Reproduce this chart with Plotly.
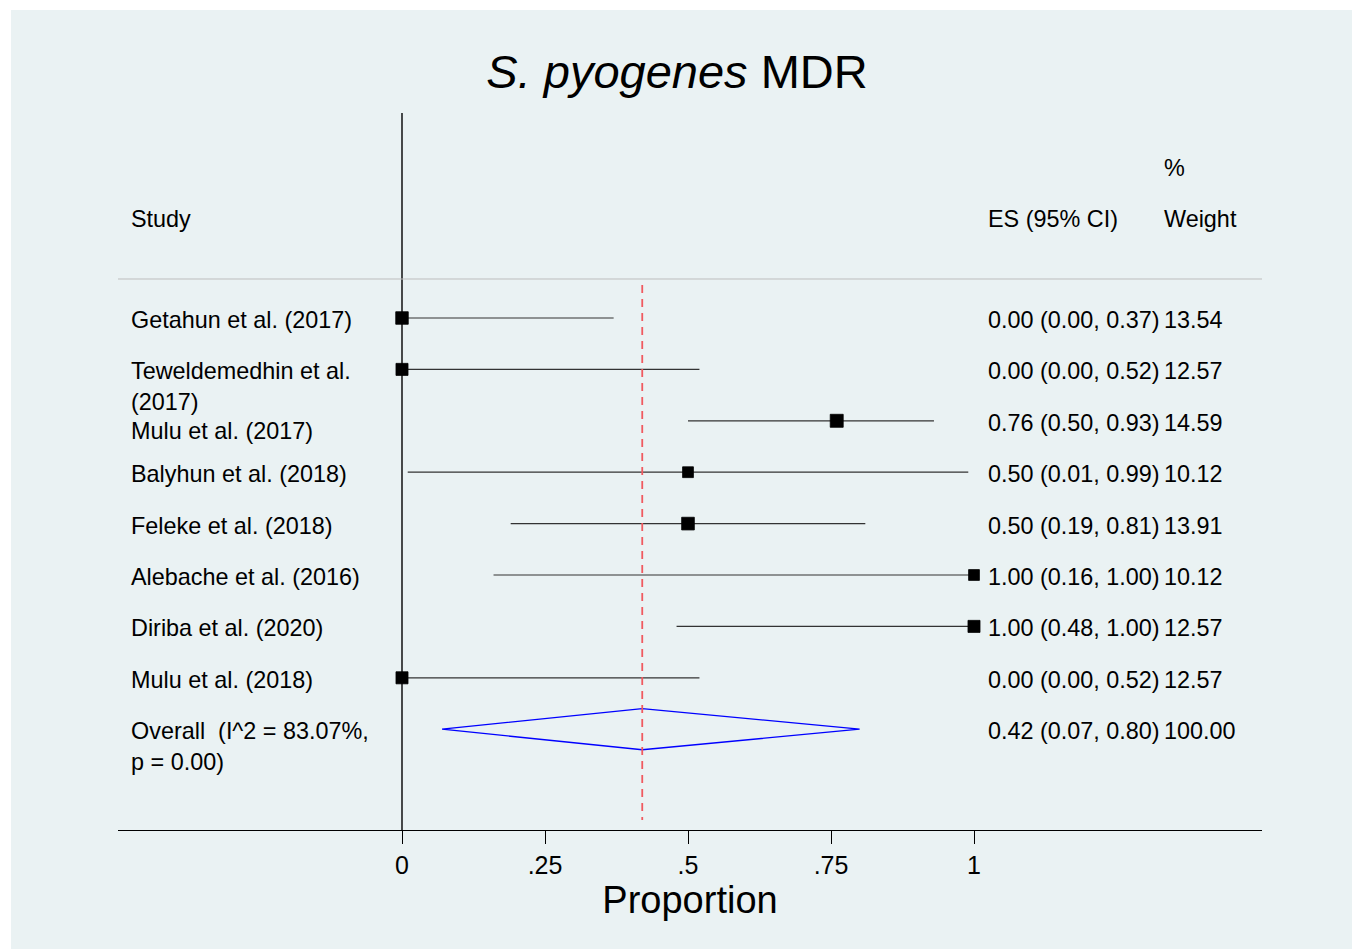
import plotly.graph_objects as go
import math

title_italic = "S. pyogenes"
title_rest = "MDR"
studies = ["Getahun et al. (2017)", "Teweldemedhin et al.<br>(2017)", "Mulu et al. (2017)",
           "Balyhun et al. (2018)", "Feleke et al. (2018)", "Alebache et al. (2016)",
           "Diriba et al. (2020)", "Mulu et al. (2018)"]
es = [0.00, 0.00, 0.76, 0.50, 0.50, 1.00, 1.00, 0.00]
lo = [0.00, 0.00, 0.50, 0.01, 0.19, 0.16, 0.48, 0.00]
hi = [0.37, 0.52, 0.93, 0.99, 0.81, 1.00, 1.00, 0.52]
weights = [13.54, 12.57, 14.59, 10.12, 13.91, 10.12, 12.57, 12.57]
overall_label = "Overall  (I^2 = 83.07%,<br>p = 0.00)"
overall_es, overall_lo, overall_hi, overall_w = 0.42, 0.07, 0.80, 100.00
tick_vals = [0, 0.25, 0.5, 0.75, 1]
tick_text = ["0", ".25", ".5", ".75", "1"]
x_title = "Proportion"

FONT = "Liberation Sans, Arial, Helvetica, sans-serif"
BG = "#EAF2F3"
OFF = 8  # page body margin

rows = list(range(1, len(studies) + 1))
overall_row = len(studies) + 1

# page-pixel helpers (row 1 at y=318, 51.4 px per row; x=0 at 402, 572 px per unit)
def rowpx(py):
    return 1 + (py - 318) / 51.4

def xpx(px):
    return (px - 402) / 572

fig = go.Figure()

for r, l, h in zip(rows, lo, hi):
    fig.add_trace(go.Scatter(x=[l, h], y=[r, r], mode="lines",
                             line=dict(color="#333333", width=1.2),
                             hoverinfo="skip", showlegend=False))
fig.add_trace(go.Scatter(x=es, y=rows, mode="markers",
                         marker=dict(symbol="square", color="#000000", opacity=1,
                                     size=[3.4 * math.sqrt(w) for w in weights],
                                     line=dict(width=0.8, color="#000000")),
                         hoverinfo="skip", showlegend=False))
dh = 0.4
fig.add_trace(go.Scatter(x=[overall_lo, overall_es, overall_hi, overall_es, overall_lo],
                         y=[overall_row, overall_row - dh, overall_row, overall_row + dh, overall_row],
                         mode="lines", line=dict(color="#0000FF", width=1.3),
                         hoverinfo="skip", showlegend=False))

shapes = [
    dict(type="rect", xref="paper", yref="paper", x0=-0.0935, x1=1.09,
         y0=-0.2, y1=1.1437, fillcolor=BG, line=dict(width=0), layer="below"),
    dict(type="line", xref="x", yref="paper", x0=0, x1=0, y0=0, y1=1,
         line=dict(color="black", width=1.4)),
    dict(type="line", xref="paper", yref="y", x0=0, x1=1, y0=rowpx(279), y1=rowpx(279),
         line=dict(color="#BDBDBD", width=1)),
    dict(type="line", xref="x", yref="y", x0=overall_es, x1=overall_es,
         y0=rowpx(285), y1=rowpx(820), line=dict(color="#F05A5F", width=1.8, dash="8px,6px")),
]

ann = []
XL, XES, XW = xpx(129), xpx(986), xpx(1162)
tf = dict(family=FONT, size=23.4, color="black")
LINE = 31

def add_label(text, row, x, extra=0):
    for i, line in enumerate(text.split("<br>")):
        ann.append(dict(x=x, y=row, xref="x", yref="y", text=line, showarrow=False,
                        xanchor="left", yanchor="middle", yshift=-2 - extra - LINE * i, font=tf))

prev_lines = 1
for r, s in zip(rows, studies):
    add_label(s, r, XL, extra=8 if prev_lines > 1 else 0)
    prev_lines = len(s.split("<br>"))
add_label(overall_label, overall_row, XL)

for r, e, l, h, w in zip(rows + [overall_row], es + [overall_es], lo + [overall_lo],
                         hi + [overall_hi], weights + [overall_w]):
    add_label(f"{e:.2f} ({l:.2f}, {h:.2f})", r, XES)
    add_label(f"{w:.2f}", r, XW)

add_label("Study", rowpx(217), XL)
add_label("ES (95% CI)", rowpx(217), XES)
add_label("Weight", rowpx(217), XW)
add_label("%", rowpx(166), XW)

fig.update_layout(
    width=1360 - OFF, height=949 - OFF,
    margin=dict(l=118 - OFF, r=98, t=113 - OFF, b=119),
    paper_bgcolor="white", plot_bgcolor="rgba(0,0,0,0)",
    title=dict(text=f"<i>{title_italic}</i> {title_rest}", x=(677 - OFF) / (1360 - OFF),
               xanchor="center", y=1 - (72 - OFF) / (949 - OFF), yanchor="middle",
               font=dict(family=FONT, size=47, color="black")),
    shapes=shapes, annotations=ann,
    xaxis=dict(range=[xpx(118), xpx(1262)], showgrid=False, zeroline=False,
               showline=True, linecolor="black", linewidth=1.4,
               tickvals=tick_vals, ticktext=tick_text, ticks="outside", ticklen=13,
               tickcolor="black", tickwidth=1.4,
               tickfont=dict(family=FONT, size=25, color="black"),
               title=dict(text=x_title, font=dict(family=FONT, size=38, color="black"), standoff=2)),
    yaxis=dict(range=[rowpx(830), rowpx(113)], showgrid=False,
               zeroline=False, showticklabels=False, showline=False),
    showlegend=False,
)

fig.write_html("out.html")
